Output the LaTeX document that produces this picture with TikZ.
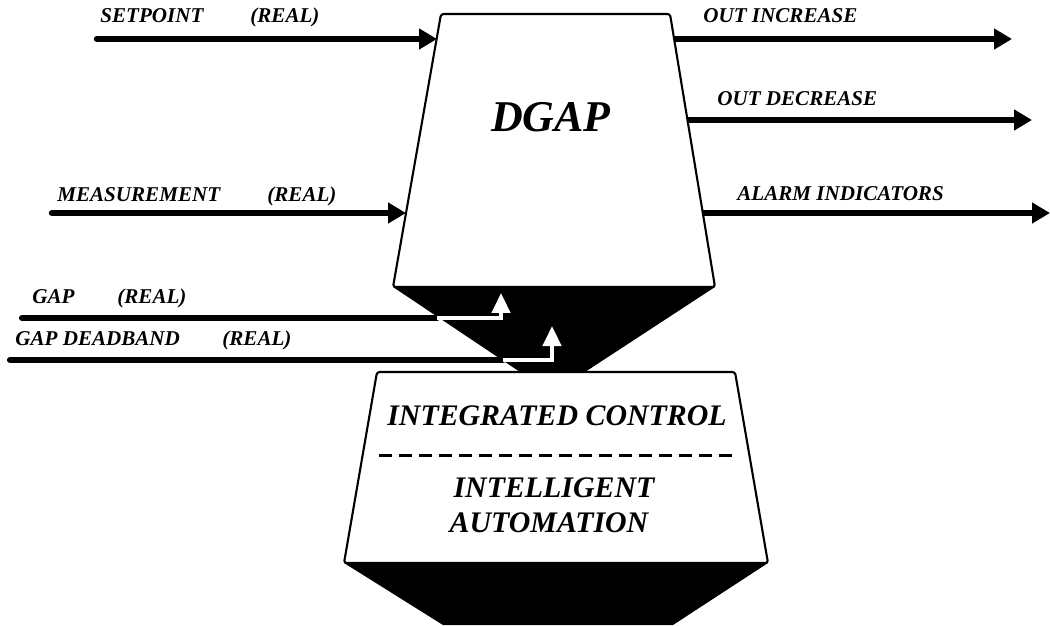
\documentclass[tikz,border=0pt]{standalone}
\usepackage{fontspec}
\setmainfont{Liberation Serif}
\usepackage{tikz}
\usetikzlibrary{arrows.meta}

\tikzset{
  sig/.style={line width=3.7pt, line cap=round, -{Triangle[length=0.36cm,width=0.4cm]}},
  wsig/.style={white, line width=2.6pt, -{Triangle[length=0.4cm,width=0.36cm]}},
  lbl/.style={anchor=base west, inner sep=0pt, font=\fontsize{12}{14}\selectfont\bfseries\itshape},
  big/.style={anchor=base, inner sep=0pt, font=\fontsize{17}{20}\selectfont\bfseries\itshape},
  blk/.style={draw, line width=1.2pt, fill=white, rounded corners=1.5pt}
}

\begin{document}
\begin{tikzpicture}[x=0.02cm, y=-0.02cm]
  \useasboundingbox (0,0) rectangle (1050,625);
  %blocco DGAP
  \fill (393,287) -- (715,287) -- (585,372) -- (520,372) -- cycle;
  \draw[blk] (441,14) -- (670,14) -- (715,287) -- (393,287) -- cycle;
  \node[anchor=base, inner sep=0pt, font=\fontsize{25}{30}\selectfont\bfseries\itshape] (dgap) at (551,132) {DGAP};
  %blocco inferiore
  \fill (344,563) -- (768,563) -- (673,625) -- (443,625) -- cycle;
  \draw[blk] (377,372) -- (735,372) -- (768,563) -- (344,563) -- cycle;
  \node[big] (ic) at (557,425) {INTEGRATED CONTROL};
  \coordinate (sepa) at (379,455);
  \coordinate (sepb) at (732,455);
  \draw[line width=1.7pt, dash pattern=on 0.26cm off 0.14cm] (sepa) -- (sepb);
  \node[big] (ia1) at (554,497) {INTELLIGENT};
  \node[big] (ia2) at (549,532) {AUTOMATION};
  %ingressi
  \coordinate (sp-a) at (97,39);
  \coordinate (sp-b) at (437,39);
  \draw[sig] (sp-a) -- (sp-b);
  \node[lbl] (sp-l) at (100,23) {SETPOINT};
  \node[lbl] (sp-r) at (250,23) {(REAL)};
  \coordinate (ms-a) at (52,213);
  \coordinate (ms-b) at (406,213);
  \draw[sig] (ms-a) -- (ms-b);
  \node[lbl] (ms-l) at (57,201) {MEASUREMENT};
  \node[lbl] (ms-r) at (267,201) {(REAL)};
  %uscite
  \coordinate (oi-a) at (674,39);
  \coordinate (oi-b) at (1012,39);
  \draw[sig, line cap=butt] (oi-a) -- (oi-b);
  \node[lbl] (oi-l) at (703,23) {OUT INCREASE};
  \coordinate (od-a) at (687,120);
  \coordinate (od-b) at (1032,120);
  \draw[sig, line cap=butt] (od-a) -- (od-b);
  \node[lbl] (od-l) at (717,106) {OUT DECREASE};
  \coordinate (al-a) at (703,213);
  \coordinate (al-b) at (1050,213);
  \draw[sig, line cap=butt] (al-a) -- (al-b);
  \node[lbl] (al-l) at (737,200) {ALARM INDICATORS};
  %gap
  \coordinate (gp-a) at (22,318);
  \coordinate (gp-b) at (437,318);
  \coordinate (gp-c) at (501,293);
  \draw[line width=3.5pt, line cap=round] (gp-a) -- (gp-b);
  \draw[wsig] (gp-b) -| (gp-c);
  \node[lbl] (gp-l) at (32,303) {GAP};
  \node[lbl] (gp-r) at (117,303) {(REAL)};
  \coordinate (db-a) at (10,360);
  \coordinate (db-b) at (503,360);
  \coordinate (db-c) at (552,326);
  \draw[line width=3.5pt, line cap=round] (db-a) -- (db-b);
  \draw[wsig] (db-b) -| (db-c);
  \node[lbl] (db-l) at (15,345) {GAP DEADBAND};
  \node[lbl] (db-r) at (222,345) {(REAL)};
\end{tikzpicture}
\end{document}
